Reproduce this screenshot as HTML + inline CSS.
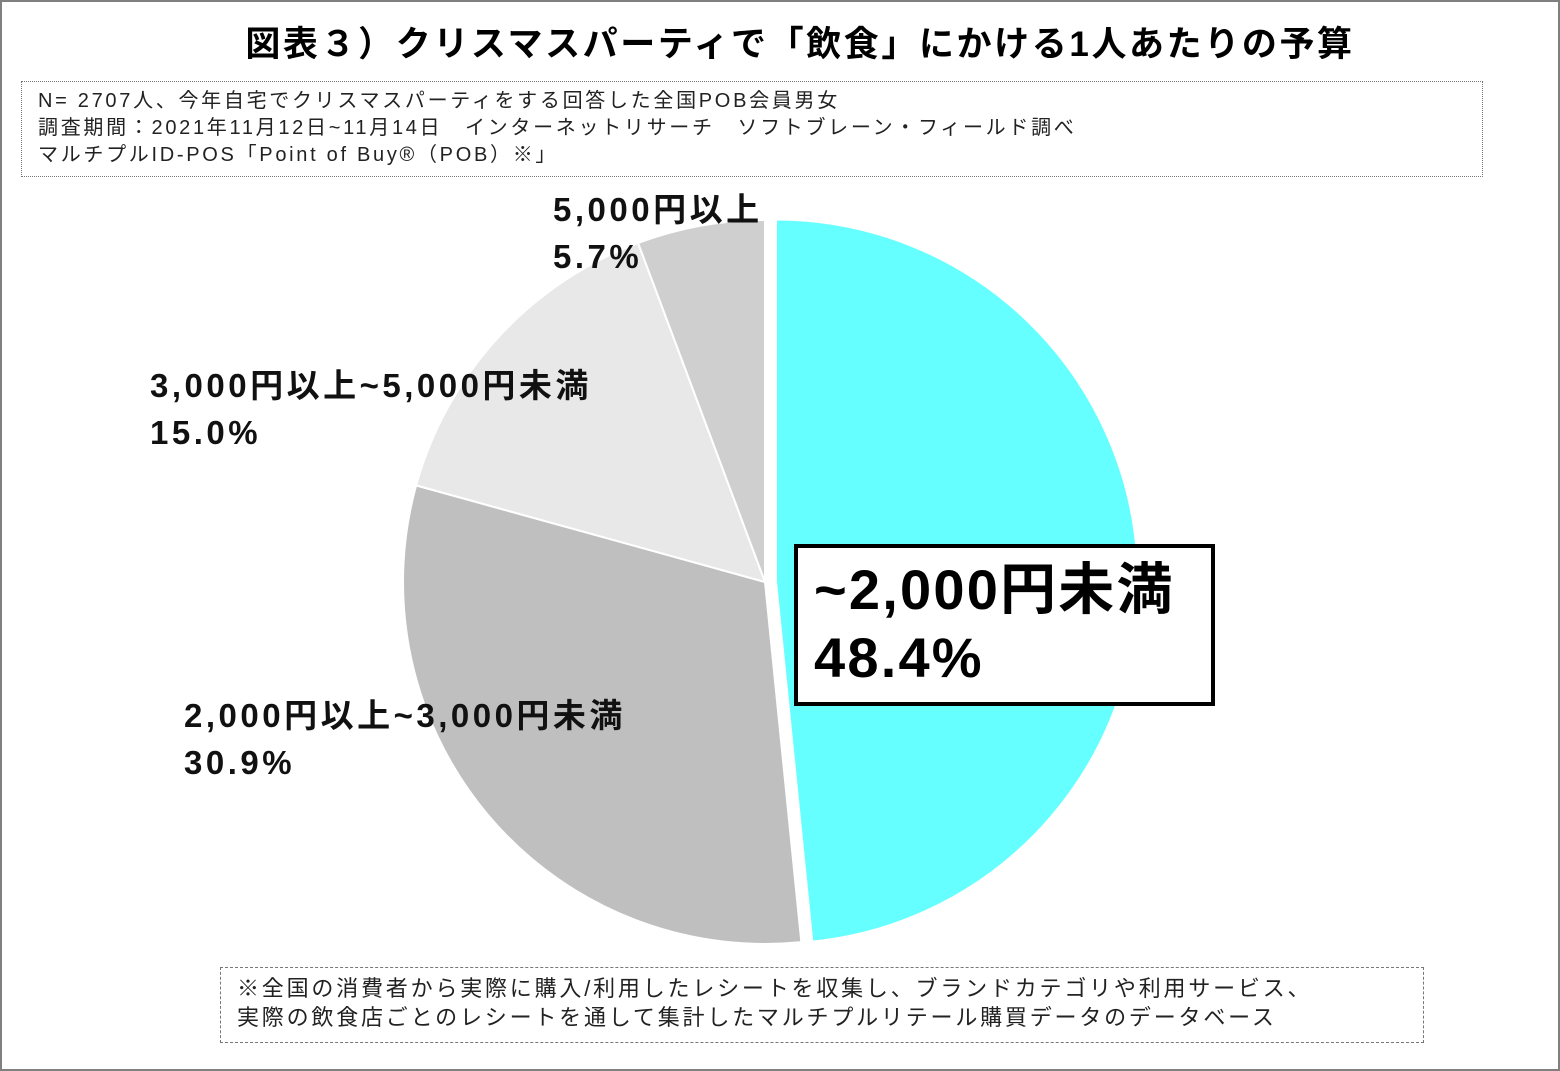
<!DOCTYPE html>
<html><head><meta charset="utf-8">
<style>
html,body{margin:0;padding:0;background:#fff;}
body{width:1560px;height:1071px;position:relative;overflow:hidden;font-family:"Liberation Sans","Noto Sans CJK JP",sans-serif;}
.frame{position:absolute;left:0;top:0;width:1556px;height:1067px;border:2px solid #808080;}
.title{position:absolute;left:20px;width:1560px;top:16px;text-align:center;font-size:35px;font-weight:bold;color:#000;letter-spacing:2.6px;}
.note{position:absolute;left:21px;top:81px;width:1462px;height:96px;border:1.5px dotted #777;box-sizing:border-box;padding:6px 0 0 16px;font-size:20px;line-height:27px;color:#222;letter-spacing:2.7px;white-space:nowrap;}
.foot{position:absolute;left:220px;top:967px;width:1204px;height:76px;border:1.5px dashed #777;box-sizing:border-box;padding:6px 0 0 16px;font-size:22px;line-height:29px;color:#222;letter-spacing:2.8px;white-space:nowrap;}
.lbl{position:absolute;font-weight:bold;font-size:33px;line-height:47px;color:#111;letter-spacing:3.5px;white-space:nowrap;}
.big{position:absolute;left:794px;top:544px;width:421px;height:162px;border:4px solid #000;box-sizing:border-box;background:#fff;padding:8px 0 0 16px;font-size:56px;line-height:68px;font-weight:bold;color:#000;letter-spacing:2.2px;white-space:nowrap;}
svg{position:absolute;left:0;top:0;}
</style></head><body>
<div class="frame"></div>
<div class="title">図表３）クリスマスパーティで「飲食」にかける1人あたりの予算</div>
<div class="note">N= 2707人、今年自宅でクリスマスパーティをする回答した全国POB会員男女<br>調査期間：2021年11月12日~11月14日　インターネットリサーチ　ソフトブレーン・フィールド調べ<br>マルチプルID-POS「Point of Buy®（POB）※」</div>
<svg id="pie" width="1560" height="1071"></svg>
<div class="lbl" style="left:553px;top:186px">5,000円以上<br>5.7%</div>
<div class="lbl" style="left:150px;top:362px">3,000円以上~5,000円未満<br>15.0%</div>
<div class="lbl" style="left:184px;top:692px">2,000円以上~3,000円未満<br>30.9%</div>
<div class="big">~2,000円未満<br>48.4%</div>
<div class="foot">※全国の消費者から実際に購入/利用したレシートを収集し、ブランドカテゴリや利用サービス、<br>実際の飲食店ごとのレシートを通して集計したマルチプルリテール購買データのデータベース</div>
<script>
const categories = ["~2,000円未満","2,000円以上~3,000円未満","3,000円以上~5,000円未満","5,000円以上"];
const values = [48.4, 30.9, 15.0, 5.7];
const colors = ["#66ffff","#bfbfbf","#e8e8e8","#d0cfcf"];
const explode = [11, 0, 0, 0];
const cx = 765, cy = 582, r = 362;
const svg = document.getElementById('pie');
const total = values.reduce((a,b)=>a+b,0);
let start = 0;
values.forEach((v,i)=>{
  const a0 = start/total*2*Math.PI, a1 = (start+v)/total*2*Math.PI;
  const mid = (a0+a1)/2;
  const ox = cx + explode[i]*Math.sin(mid), oy = cy - explode[i]*Math.cos(mid);
  const x0 = ox + r*Math.sin(a0), y0 = oy - r*Math.cos(a0);
  const x1 = ox + r*Math.sin(a1), y1 = oy - r*Math.cos(a1);
  const large = (a1-a0) > Math.PI ? 1 : 0;
  const p = document.createElementNS('http://www.w3.org/2000/svg','path');
  p.setAttribute('d', `M${ox},${oy} L${x0},${y0} A${r},${r} 0 ${large} 1 ${x1},${y1} Z`);
  p.setAttribute('fill', colors[i]);
  p.setAttribute('stroke', '#fff');
  p.setAttribute('stroke-width', '2');
  
  
  svg.appendChild(p);
  start += v;
});
</script>
</body></html>
